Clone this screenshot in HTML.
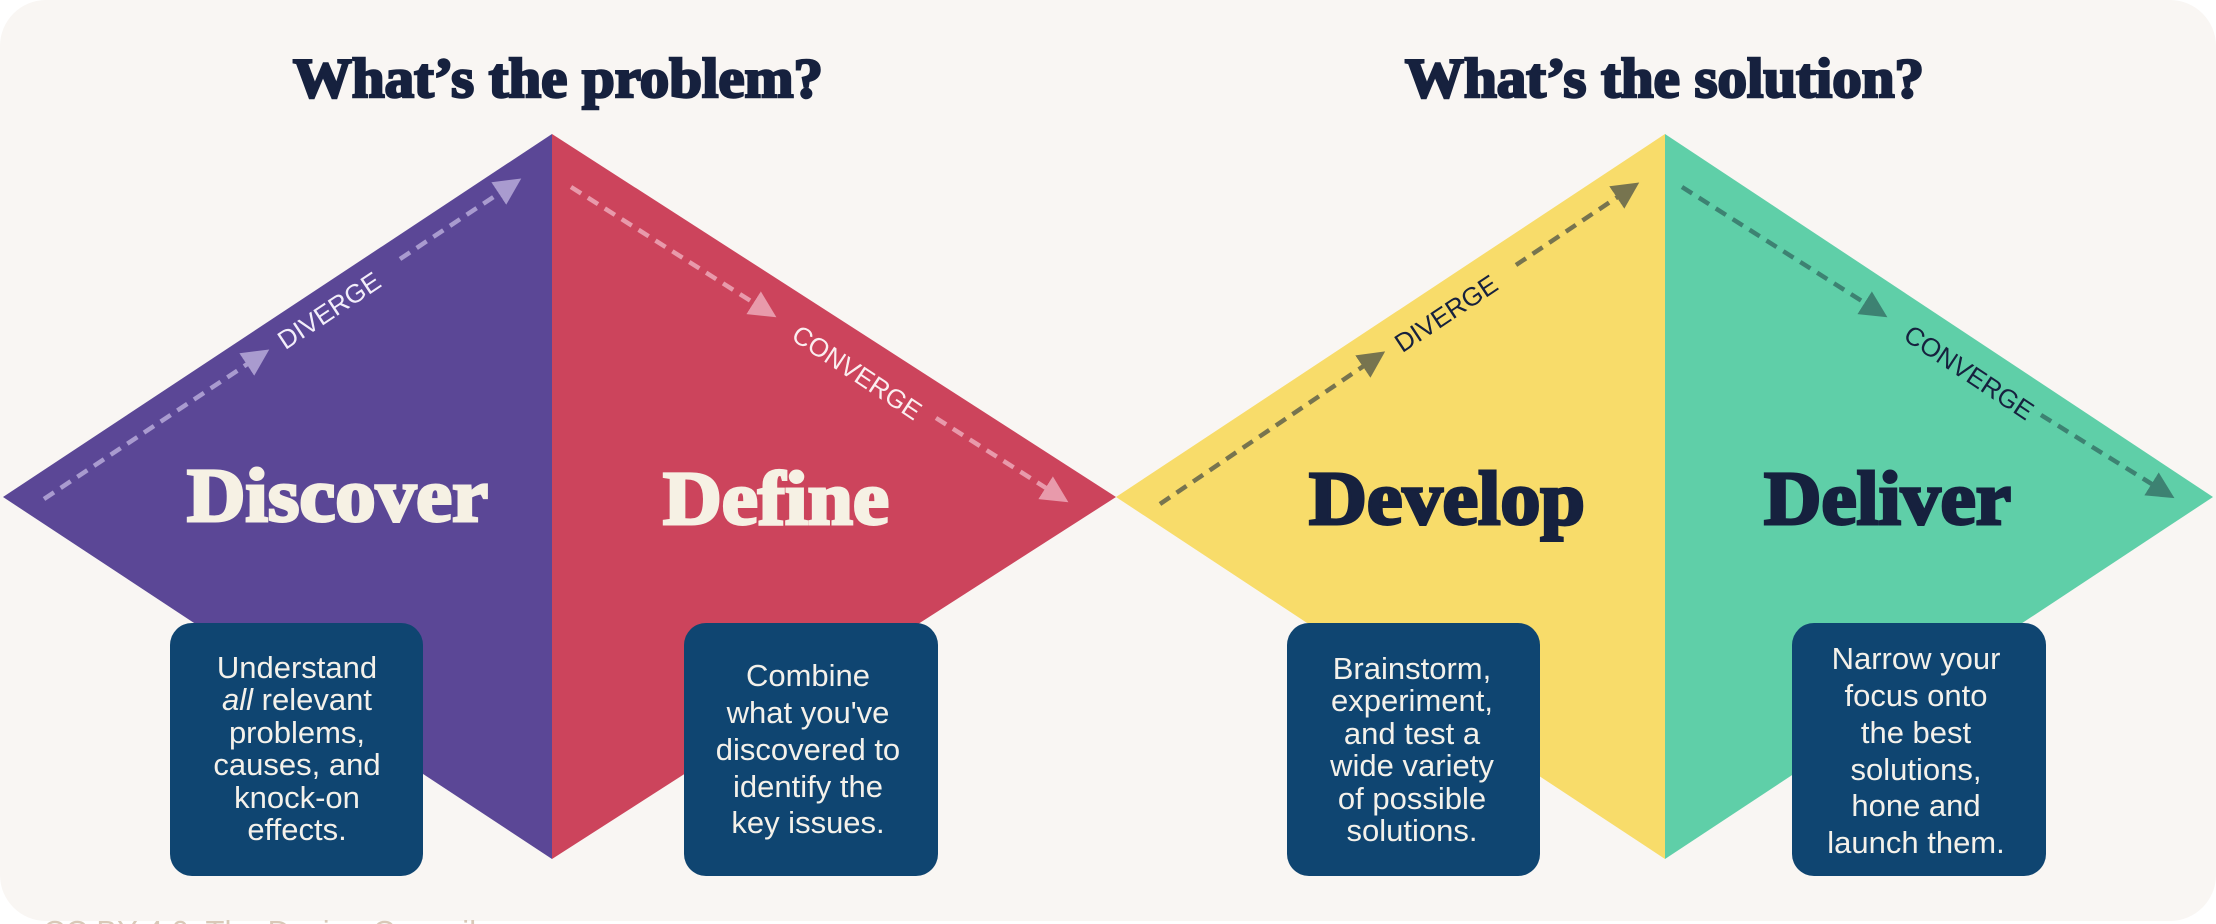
<!DOCTYPE html>
<html><head><meta charset="utf-8"><style>
html,body{margin:0;padding:0;background:#fff;}
svg{display:block}
</style></head><body>
<svg width="2216" height="924" viewBox="0 0 2216 924" xmlns="http://www.w3.org/2000/svg">
<defs>
<marker id="mL" markerWidth="6" markerHeight="6" refX="3" refY="3" orient="auto" markerUnits="strokeWidth"><path d="M0,0 L6,3 L0,6 z" fill="#a99bcf"/></marker>
<marker id="mP" markerWidth="6" markerHeight="6" refX="3" refY="3" orient="auto" markerUnits="strokeWidth"><path d="M0,0 L6,3 L0,6 z" fill="#e89aab"/></marker>
<marker id="mO" markerWidth="6" markerHeight="6" refX="3" refY="3" orient="auto" markerUnits="strokeWidth"><path d="M0,0 L6,3 L0,6 z" fill="#77744f"/></marker>
<marker id="mG" markerWidth="6" markerHeight="6" refX="3" refY="3" orient="auto" markerUnits="strokeWidth"><path d="M0,0 L6,3 L0,6 z" fill="#3d8272"/></marker>
</defs>
<rect x="0" y="0" width="2216" height="921" rx="46" fill="#f9f6f3"/>
<text x="43" y="942" font-family="Liberation Sans, sans-serif" font-size="31" fill="#d9c9b8">CC BY 4.0: The Design Council</text>

<polygon points="3,497 552,134 552,859" fill="#5b4796"/>
<polygon points="552,134 1116,497 552,859" fill="#cc445c"/>
<polygon points="1116,497 1665,134 1665,859" fill="#f8dc6a"/>
<polygon points="1665,134 2213,497 1665,859" fill="#5fcfa8"/>

<g font-family="Liberation Serif, serif" font-weight="bold" fill="#16213e" stroke="#16213e" stroke-width="2.5">
<text x="293" y="97" font-size="56" textLength="530" lengthAdjust="spacingAndGlyphs">What’s the problem?</text>
<text x="1405" y="97" font-size="56" textLength="519" lengthAdjust="spacingAndGlyphs">What’s the solution?</text>
</g>
<g font-family="Liberation Serif, serif" font-weight="bold" font-size="76" stroke-width="3">
<text x="187" y="521" fill="#f6f1e4" stroke="#f6f1e4" textLength="301" lengthAdjust="spacingAndGlyphs">Discover</text>
<text x="663" y="524" fill="#f6f1e4" stroke="#f6f1e4" textLength="226" lengthAdjust="spacingAndGlyphs">Define</text>
<text x="1309" y="524" fill="#16213e" stroke="#16213e" textLength="276" lengthAdjust="spacingAndGlyphs">Develop</text>
<text x="1764" y="524" fill="#16213e" stroke="#16213e" textLength="247" lengthAdjust="spacingAndGlyphs">Deliver</text>
</g>

<g fill="none" stroke-width="4.5" stroke-dasharray="12 8">
<line x1="44" y1="499" x2="258" y2="357" stroke="#a99bcf" marker-end="url(#mL)"/>
<line x1="400" y1="259" x2="510" y2="186" stroke="#a99bcf" marker-end="url(#mL)"/>
<line x1="571" y1="187" x2="765" y2="310" stroke="#e89aab" marker-end="url(#mP)"/>
<line x1="936" y1="418" x2="1057" y2="495" stroke="#e89aab" marker-end="url(#mP)"/>
<line x1="1160" y1="504" x2="1374" y2="359" stroke="#77744f" marker-end="url(#mO)"/>
<line x1="1516" y1="265" x2="1628" y2="190" stroke="#77744f" marker-end="url(#mO)"/>
<line x1="1682" y1="187" x2="1876" y2="310" stroke="#3d8272" marker-end="url(#mG)"/>
<line x1="2041" y1="415" x2="2163" y2="491" stroke="#3d8272" marker-end="url(#mG)"/>
</g>
<g font-family="Liberation Sans, sans-serif" font-size="26" text-anchor="middle">
<text transform="translate(334,318) rotate(-33.5)" fill="#f3eefa">DIVERGE</text>
<text transform="translate(852,380) rotate(33.5)" fill="#fbeef0">CONVERGE</text>
<text transform="translate(1451,321) rotate(-33.5)" fill="#16213e">DIVERGE</text>
<text transform="translate(1964,380) rotate(33.5)" fill="#16213e">CONVERGE</text>
</g>

<g fill="#0f4571">
<rect x="170" y="623" width="253" height="253" rx="22"/>
<rect x="684" y="623" width="254" height="253" rx="22"/>
<rect x="1287" y="623" width="253" height="253" rx="22"/>
<rect x="1792" y="623" width="254" height="253" rx="22"/>
</g>
<g font-family="Liberation Sans, sans-serif" font-size="31" fill="#f4f1ea" text-anchor="middle">
<text x="297" y="678">Understand</text>
<text x="297" y="710"><tspan font-style="italic">all</tspan> relevant</text>
<text x="297" y="743">problems,</text>
<text x="297" y="775">causes, and</text>
<text x="297" y="808">knock-on</text>
<text x="297" y="840">effects.</text>

<text x="808" y="686">Combine</text>
<text x="808" y="723">what you've</text>
<text x="808" y="760">discovered to</text>
<text x="808" y="797">identify the</text>
<text x="808" y="833">key issues.</text>

<text x="1412" y="679">Brainstorm,</text>
<text x="1412" y="711">experiment,</text>
<text x="1412" y="744">and test a</text>
<text x="1412" y="776">wide variety</text>
<text x="1412" y="809">of possible</text>
<text x="1412" y="841">solutions.</text>

<text x="1916" y="669">Narrow your</text>
<text x="1916" y="706">focus onto</text>
<text x="1916" y="743">the best</text>
<text x="1916" y="780">solutions,</text>
<text x="1916" y="816">hone and</text>
<text x="1916" y="853">launch them.</text>
</g>
</svg>
</body></html>
